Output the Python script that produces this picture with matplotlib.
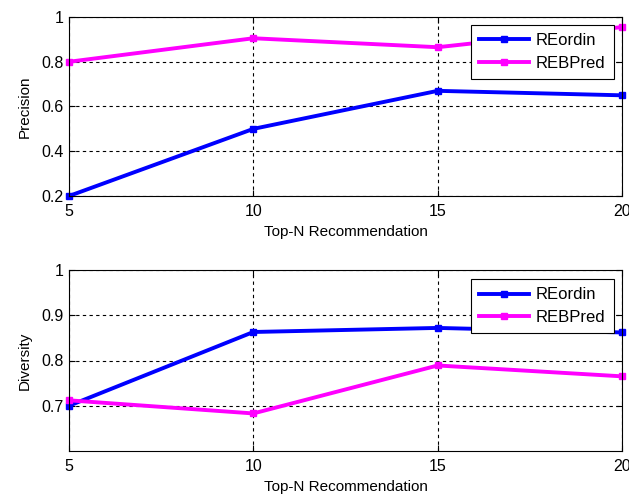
import numpy as np
import matplotlib.pyplot as plt

plt.rcParams['font.family'] = ['Liberation Sans', 'DejaVu Sans']

topn = [5, 10, 15, 20]
series_names = ['REordin', 'REBPred']

prec_reordin = [0.20, 0.50, 0.67, 0.65]
prec_rebpred = [0.80, 0.905, 0.865, 0.955]

div_reordin = [0.700, 0.863, 0.872, 0.862]
div_rebpred = [0.712, 0.683, 0.789, 0.765]

colors = ['#0000ff', '#ff00ff']

fig = plt.figure(figsize=(6.29, 4.97), dpi=100)
W, H = 629, 497
ax1 = fig.add_axes([69 / W, 1 - 196 / H, (622 - 69) / W, (196 - 17) / H])
ax2 = fig.add_axes([69 / W, 1 - 451 / H, (622 - 69) / W, (451 - 270) / H])


def style(ax, ylabel, ylim, yticks):
    ax.set_xlim(5, 20)
    ax.set_ylim(*ylim)
    ax.set_xticks(topn)
    ax.set_yticks(yticks)
    ax.set_yticklabels(['%g' % t for t in yticks])
    ax.grid(True, color='black', linestyle=(0, (3, 3)), linewidth=0.8)
    ax.tick_params(direction='in', length=4, labelsize=11.5, width=0.8,
                   top=True, right=True)
    ax.tick_params(axis='x', pad=6)
    ax.tick_params(axis='y', pad=4)
    for s in ax.spines.values():
        s.set_linewidth(0.8)
    ax.set_xlabel('Top-N Recommendation', fontsize=11, labelpad=4)
    ax.set_ylabel(ylabel, fontsize=11, labelpad=7)


ax1.plot(topn, prec_reordin, '-s', color=colors[0], lw=2.8, ms=4, label=series_names[0], clip_on=False)
ax1.plot(topn, prec_rebpred, '-s', color=colors[1], lw=2.8, ms=4, label=series_names[1], clip_on=False)
style(ax1, 'Precision', (0.2, 1.0), [0.2, 0.4, 0.6, 0.8, 1.0])

ax2.plot(topn, div_reordin, '-s', color=colors[0], lw=2.8, ms=4, label=series_names[0], clip_on=False)
ax2.plot(topn, div_rebpred, '-s', color=colors[1], lw=2.8, ms=4, label=series_names[1], clip_on=False)
style(ax2, 'Diversity', (0.6, 1.0), [0.7, 0.8, 0.9, 1.0])

for ax, top in ((ax1, 1 - 8 / 179), (ax2, 1 - 9 / 181)):
    leg = ax.legend(loc='upper right', fancybox=False, framealpha=1, edgecolor='black',
                    fontsize=12, handlelength=3.0, borderaxespad=0,
                    labelspacing=0.45, borderpad=0.5, handletextpad=0.4,
                    bbox_to_anchor=(1 - 8 / 553, top))
    leg.get_frame().set_linewidth(0.8)

fig.savefig('out.png', dpi=100)
